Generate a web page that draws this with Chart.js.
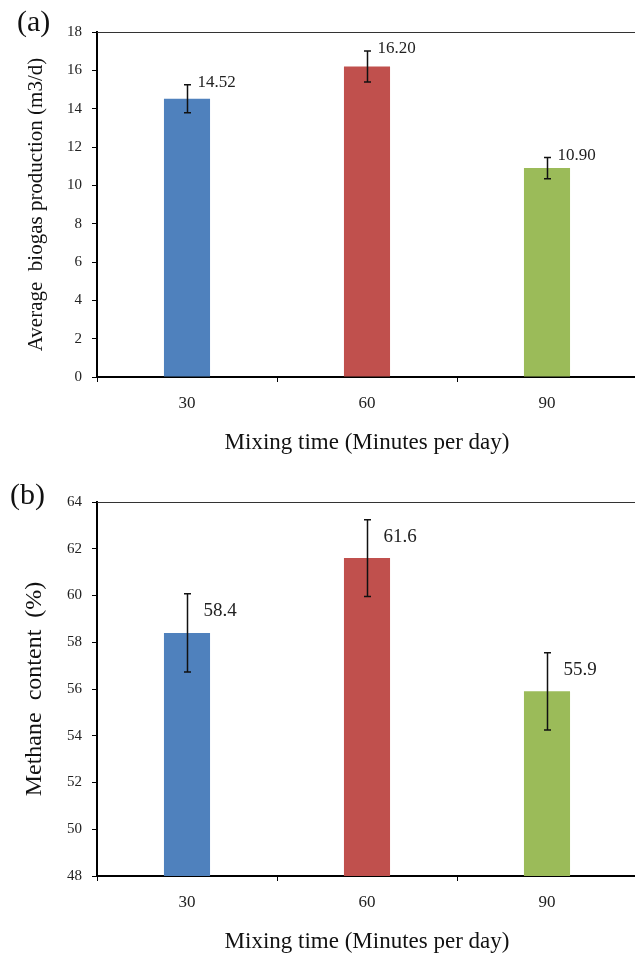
<!DOCTYPE html>
<html>
<head>
<meta charset="utf-8">
<script src="https://cdn.jsdelivr.net/npm/chart.js@4.4.1/dist/chart.umd.min.js"></script>
<style>
  html, body { margin: 0; padding: 0; background: #fff; overflow: hidden; }
  #wrap { position: relative; width: 635px; height: 954px; overflow: hidden; }
  canvas { position: absolute; left: 0; }
  .panel { position: absolute; font-family: "Liberation Serif", "Times New Roman", serif; font-size: 30px; line-height: 1; color: #111; }
</style>
</head>
<body>
<div id="wrap">
  <canvas id="chartA" width="637" height="460" style="top:0;width:637px;height:460px"></canvas>
  <canvas id="chartB" width="637" height="496" style="top:460px;width:637px;height:496px"></canvas>
  <div class="panel" style="left:17px;top:6px">(a)</div>
  <div class="panel" style="left:10px;top:479px">(b)</div>
</div>
<script>
// mixing time categories (minutes per day)
const mixingTimes = ['30', '60', '90'];
const barColors = ['#4F81BD', '#C0504D', '#9BBB59'];

// (a) average biogas production, m3/d
const biogasValues = [14.52, 16.20, 10.90];
const biogasErrors = [0.73, 0.81, 0.55];
const biogasLabels = ['14.52', '16.20', '10.90'];

// (b) methane content, %
const methaneValues = [58.4, 61.6, 55.9];
const methaneErrors = [1.67, 1.64, 1.65];
const methaneLabels = ['58.4', '61.6', '55.9'];

Chart.defaults.font.family = '"Liberation Serif", "Times New Roman", serif';
Chart.defaults.color = '#222';

// draws the error bars, value labels and the thin top frame line
const errorBarPlugin = {
    id: 'errorBars',
    afterDatasetsDraw(chart, args, opts) {
        const { ctx, chartArea, scales: { y } } = chart;
        const meta = chart.getDatasetMeta(0);
        const values = chart.data.datasets[0].data;

        ctx.save();
        // top frame line
        ctx.strokeStyle = '#333';
        ctx.lineWidth = 1;
        ctx.beginPath();
        ctx.moveTo(chartArea.left, chartArea.top + 0.5);
        ctx.lineTo(chartArea.right, chartArea.top + 0.5);
        ctx.stroke();

        meta.data.forEach((bar, i) => {
            const v = values[i];
            const e = opts.errors[i];
            const x = Math.round(bar.x) + 0.5;
            const yTop = y.getPixelForValue(v + e);
            const yBot = y.getPixelForValue(v - e);

            ctx.strokeStyle = '#111';
            ctx.lineWidth = 1.5;
            ctx.beginPath();
            ctx.moveTo(x, yTop);
            ctx.lineTo(x, yBot);
            ctx.moveTo(x - 3.5, yTop);
            ctx.lineTo(x + 3.5, yTop);
            ctx.moveTo(x - 3.5, yBot);
            ctx.lineTo(x + 3.5, yBot);
            ctx.stroke();

            ctx.fillStyle = '#222';
            ctx.font = opts.labelSize + 'px "Liberation Serif", "Times New Roman", serif';
            ctx.textAlign = 'left';
            ctx.textBaseline = 'middle';
            ctx.fillText(opts.labels[i], x + opts.dx, yTop + opts.dy);
        });
        ctx.restore();
    }
};

function makeChart(canvasId, values, errors, labels, cfg) {
    const ctx = document.getElementById(canvasId).getContext('2d');
    return new Chart(ctx, {
        type: 'bar',
        data: {
            labels: mixingTimes,
            datasets: [{
                data: values,
                backgroundColor: barColors,
                borderWidth: 0,
                categoryPercentage: 1,
                barPercentage: 0.256,
            }],
        },
        options: {
            responsive: false,
            animation: false,
            layout: { padding: { top: cfg.top, left: 0, right: 0, bottom: 0 } },
            plugins: {
                legend: { display: false },
                tooltip: { enabled: false },
                errorBars: {
                    errors: errors,
                    labels: labels,
                    labelSize: cfg.labelSize,
                    dx: cfg.dx,
                    dy: cfg.dy,
                },
            },
            scales: {
                x: {
                    afterFit: s => { s.height = cfg.xHeight; },
                    grid: {
                        display: true,
                        drawOnChartArea: false,
                        drawTicks: true,
                        tickLength: 5,
                        color: '#000',
                    },
                    border: { display: true, color: '#000', width: 2 },
                    ticks: { font: { size: 17 }, padding: 11, color: '#222' },
                    title: {
                        display: true,
                        text: 'Mixing time (Minutes per day)',
                        font: { size: 23 },
                        color: '#111',
                        padding: { top: 0, bottom: cfg.xTitlePad },
                    },
                },
                y: {
                    min: cfg.min,
                    max: cfg.max,
                    afterFit: s => { s.width = 97; },
                    grid: {
                        display: true,
                        drawOnChartArea: false,
                        drawTicks: true,
                        tickLength: 5,
                        color: '#000',
                    },
                    border: { display: true, color: '#000', width: 2 },
                    ticks: { stepSize: 2, font: { size: 15 }, padding: 10, color: '#222' },
                    title: {
                        display: true,
                        text: cfg.yTitle,
                        font: { size: cfg.yTitleSize },
                        color: '#111',
                        padding: { top: cfg.yTitlePad, bottom: 0 },
                    },
                },
            },
        },
        plugins: [errorBarPlugin],
    });
}

makeChart('chartA', biogasValues, biogasErrors, biogasLabels, {
    top: 32, xHeight: 83, xTitlePad: 3, min: 0, max: 18,
    yTitle: 'Average  biogas production (m3/d)', yTitleSize: 21, yTitlePad: 24,
    labelSize: 17, dx: 10, dy: -2,
});

makeChart('chartB', methaneValues, methaneErrors, methaneLabels, {
    top: 42, xHeight: 80, xTitlePad: 0, min: 48, max: 64,
    yTitle: 'Methane  content  (%)', yTitleSize: 24, yTitlePad: 20,
    labelSize: 19, dx: 16, dy: 17,
});
</script>
</body>
</html>
